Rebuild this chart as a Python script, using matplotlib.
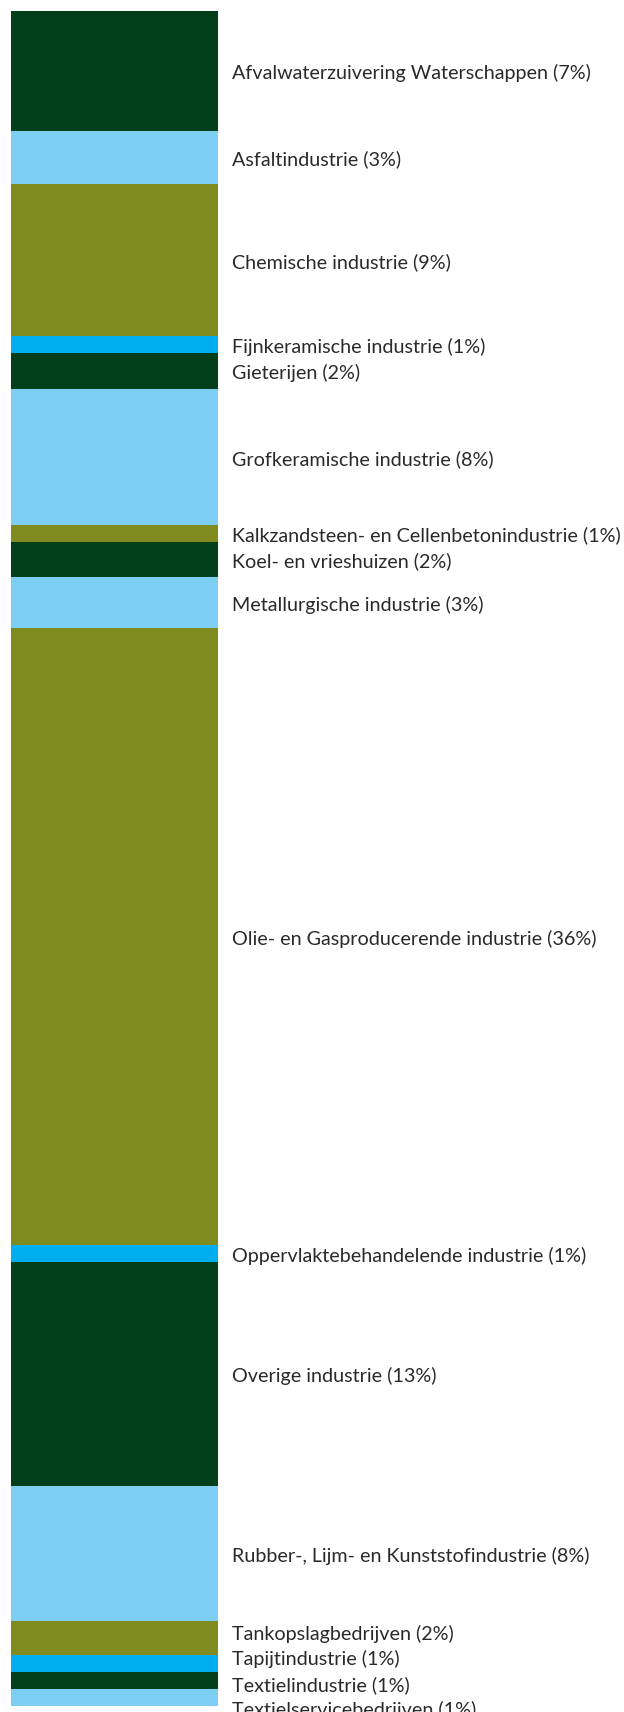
import numpy as np
import matplotlib.pyplot as plt
from matplotlib.transforms import blended_transform_factory

categories = [
    "Afvalwaterzuivering Waterschappen",
    "Asfaltindustrie",
    "Chemische industrie",
    "Fijnkeramische industrie",
    "Gieterijen",
    "Grofkeramische industrie",
    "Kalkzandsteen- en Cellenbetonindustrie",
    "Koel- en vrieshuizen",
    "Metallurgische industrie",
    "Olie- en Gasproducerende industrie",
    "Oppervlaktebehandelende industrie",
    "Overige industrie",
    "Rubber-, Lijm- en Kunststofindustrie",
    "Tankopslagbedrijven",
    "Tapijtindustrie",
    "Textielindustrie",
    "Textielservicebedrijven",
]
shares = [7.1, 3.1, 9.0, 1.0, 2.1, 8.0, 1.0, 2.1, 3.0, 36.4, 1.0, 13.2, 8.0, 2.0, 1.0, 1.0, 1.0]
labels = ["(7%)", "(3%)", "(9%)", "(1%)", "(2%)", "(8%)", "(1%)", "(2%)", "(3%)",
          "(36%)", "(1%)", "(13%)", "(8%)", "(2%)", "(1%)", "(1%)", "(1%)"]

DARK, LIGHT, OLIVE, BRIGHT = "#003f1a", "#7ccef2", "#7f8b1f", "#00aeef"
colors = [DARK, LIGHT, OLIVE, BRIGHT, DARK, LIGHT, OLIVE, DARK, LIGHT,
          OLIVE, BRIGHT, DARK, LIGHT, OLIVE, BRIGHT, DARK, LIGHT]

W, H = 624, 1712
fig = plt.figure(figsize=(W / 100, H / 100), dpi=100)
ax = fig.add_axes([11 / W, (H - 1706) / H, 207 / W, 1695 / H])

starts = np.concatenate([[0], np.cumsum(shares)[:-1]])
ax.bar(0, shares, bottom=starts, width=1.0, color=colors, linewidth=0)
ax.set_xlim(-0.5, 0.5)
ax.set_ylim(sum(shares), 0)
ax.axis("off")

# spread labels so they don't overlap (min gap in data units)
mids = starts + np.array(shares) / 2
gap = 25.5 / 1695 * sum(shares)
groups = [[i] for i in range(len(mids))]
pos = list(mids)
changed = True
while changed:
    changed = False
    for k in range(len(groups) - 1):
        g1, g2 = groups[k], groups[k + 1]
        if pos[g2[0]] - pos[g1[-1]] < gap - 1e-9:
            g = g1 + g2
            center = np.mean([mids[i] for i in g])
            n = len(g)
            for j, i in enumerate(g):
                pos[i] = center + (j - (n - 1) / 2) * gap
            groups[k:k + 2] = [g]
            changed = True
            break

trans = blended_transform_factory(ax.transAxes, ax.transData)
for i, name in enumerate(categories):
    ax.text(1.068, pos[i] + 0.12, f"{name} {labels[i]}", transform=trans,
            ha="left", va="center", fontsize=14.2, family="Lato", color="#2a2a2a",
            clip_on=False)

fig.savefig("out.png", dpi=100)
